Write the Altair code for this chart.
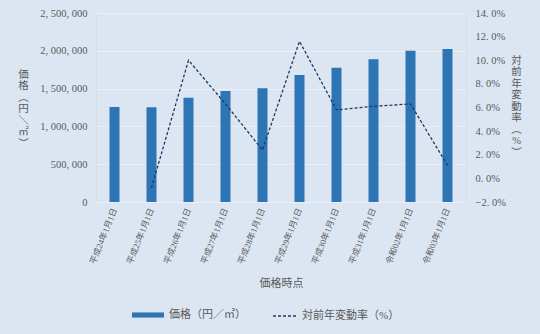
import altair as alt
import pandas as pd

dates = ["平成24年1月1日", "平成25年1月1日", "平成26年1月1日", "平成27年1月1日",
         "平成28年1月1日", "平成29年1月1日", "平成30年1月1日", "平成31年1月1日",
         "令和02年1月1日", "令和03年1月1日"]
prices = [1257000, 1253000, 1380000, 1468000, 1504000, 1680000, 1777000, 1887000, 2001000, 2024000]
rates = [None, -0.8, 10.0, 6.3, 2.4, 11.6, 5.8, 6.1, 6.3, 1.1]

bar_name = "価格（円／㎡）"
line_name = "対前年変動率（%）"
left_title = ["価", "格", "︵", "円", "＼", "㎡", "︶"]
right_title = ["対", "前", "年", "変", "動", "率", "︵", "%", "︶"]

df = pd.DataFrame({"date": dates, "price": prices, "rate": rates})
df["bar_series"] = bar_name
df["line_series"] = line_name

FONT = "Liberation Serif, Noto Sans CJK JP"
TXT = "#595959"
BG = "#dce6f2"

x = alt.X("date:N", sort=dates, title="価格時点",
          scale=alt.Scale(paddingInner=0.0, paddingOuter=0.0),
          axis=alt.Axis(labelAngle=292, labelAlign="right", labelBaseline="middle",
                        labelFontSize=8.5, labelPadding=6, ticks=False,
                        domainColor="#e9eff7", titleFontSize=11,
                        titleY=81, titleBaseline="middle", titleFontWeight="normal"))

bars = alt.Chart(df).mark_bar(size=10).encode(
    x=x,
    y=alt.Y("price:Q", scale=alt.Scale(domain=[0, 2500000]),
            axis=alt.Axis(values=[0, 500000, 1000000, 1500000, 2000000, 2500000],
                          labelExpr="replace(format(datum.value, ','), regexp(',', 'g'), ', ')",
                          labelFontSize=10.5, labelPadding=9, ticks=False, domain=False,
                          gridColor="#e9eff7", title=left_title, titleAngle=0,
                          titleX=-73, titleY=56, titleBaseline="top", titleAlign="center",
                          titleFontSize=10.5, titleLineHeight=11.5, titleFontWeight="normal")),
    color=alt.Color("bar_series:N", scale=alt.Scale(domain=[bar_name], range=["#2e75b6"]),
                    legend=alt.Legend(orient="none", legendX=36, legendY=286, title=None,
                                      symbolType="M-1,-0.16H1V0.16H-1Z", symbolSize=1024,
                                      symbolStrokeWidth=0, symbolOpacity=1,
                                      labelFontSize=11, labelOffset=5)),
)

line = alt.Chart(df).transform_filter("isValid(datum.rate)").mark_line(
    color="#1f3864", strokeWidth=1.3).encode(
    x=x,
    y=alt.Y("rate:Q", scale=alt.Scale(domain=[-2, 14]),
            axis=alt.Axis(orient="right", values=[-2, 0, 2, 4, 6, 8, 10, 12, 14],
                          labelExpr="replace(format(datum.value, '.1f'), '.', '. ') + '%'",
                          labelFontSize=10.5, labelPadding=9, ticks=False, domain=False,
                          grid=False, title=right_title, titleAngle=0,
                          titleX=50, titleY=42, titleBaseline="top", titleAlign="center",
                          titleFontSize=10.5, titleLineHeight=11.5, titleFontWeight="normal")),
    strokeDash=alt.StrokeDash("line_series:N", scale=alt.Scale(domain=[line_name], range=[[3, 2]]),
                              legend=alt.Legend(orient="none", legendX=176, legendY=290, title=None,
                                                symbolType="stroke", symbolSize=576,
                                                symbolStrokeColor="#1f3864", symbolStrokeWidth=1.3,
                                                labelFontSize=11, labelOffset=4)),
)

chart = alt.layer(bars, line).resolve_scale(y="independent").properties(
    width=370, height=189,
    autosize=alt.AutoSizeParams(type="none"),
    padding={"left": 96, "top": 13, "right": 74, "bottom": 132},
    background=BG,
).configure_view(stroke=None).configure(font=FONT).configure_axis(
    labelFont=FONT, titleFont=FONT, labelColor=TXT, titleColor=TXT
).configure_legend(labelFont=FONT, labelColor=TXT)

chart.save("out.html", embed_options={"renderer": "svg", "actions": False})
